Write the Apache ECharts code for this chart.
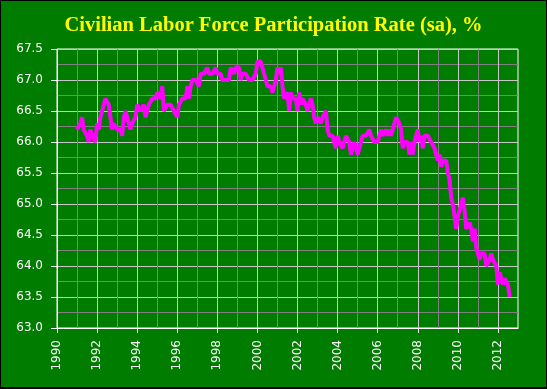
<!DOCTYPE html>
<html><head><meta charset="utf-8">
<script src="https://cdn.jsdelivr.net/npm/echarts@6/dist/echarts.min.js"></script>
<style>
html,body{margin:0;padding:0;background:#000;width:547px;height:389px;overflow:hidden;}
#c{position:absolute;left:1px;top:1px;width:545px;height:386px;}
</style></head><body><div id="c"></div>
<script>
const titleText = 'Civilian Labor Force Participation Rate (sa), %';
const startYear = 1991;
const rate1991 = [66.2,66.2,66.3,66.4,66.2,66.2,66.1,66.0,66.2,66.1,66.1,66.0];
const rate1992 = [66.3,66.2,66.4,66.5,66.6,66.7,66.7,66.6,66.4,66.2,66.3,66.3];
const rate1993 = [66.2,66.2,66.2,66.1,66.4,66.5,66.4,66.4,66.2,66.3,66.3,66.4];
const rate1994 = [66.6,66.6,66.5,66.5,66.6,66.4,66.4,66.6,66.6,66.7,66.7,66.7];
const rate1995 = [66.8,66.8,66.7,66.9,66.5,66.5,66.6,66.6,66.6,66.6,66.5,66.5];
const rate1996 = [66.4,66.6,66.6,66.7,66.7,66.7,66.9,66.7,66.9,67.0,67.0,67.0];
const rate1997 = [67.0,66.9,67.1,67.1,67.1,67.1,67.2,67.1,67.1,67.1,67.1,67.2];
const rate1998 = [67.1,67.1,67.1,67.0,67.0,67.0,67.0,67.0,67.2,67.2,67.1,67.2];
const rate1999 = [67.2,67.2,67.0,67.1,67.1,67.1,67.1,67.0,67.0,67.0,67.0,67.1];
const rate2000 = [67.3,67.3,67.3,67.3,67.1,67.1,66.9,66.9,66.9,66.8,66.9,67.0];
const rate2001 = [67.2,67.1,67.2,66.9,66.7,66.7,66.8,66.5,66.8,66.7,66.7,66.7];
const rate2002 = [66.5,66.8,66.6,66.7,66.7,66.6,66.5,66.6,66.7,66.6,66.4,66.3];
const rate2003 = [66.4,66.4,66.3,66.4,66.4,66.5,66.2,66.1,66.1,66.1,66.1,65.9];
const rate2004 = [66.1,66.0,66.0,65.9,66.0,66.1,66.1,66.0,65.8,65.9,66.0,65.9];
const rate2005 = [65.8,65.9,65.9,66.1,66.1,66.1,66.1,66.2,66.1,66.1,66.0,66.0];
const rate2006 = [66.0,66.1,66.2,66.1,66.1,66.2,66.1,66.2,66.1,66.2,66.3,66.4];
const rate2007 = [66.4,66.3,66.2,65.9,66.0,66.0,66.0,65.8,66.0,65.8,66.0,66.0];
const rate2008 = [66.2,66.0,66.1,65.9,66.1,66.1,66.1,66.1,66.0,66.0,65.9,65.8];
const rate2009 = [65.7,65.8,65.6,65.7,65.7,65.7,65.5,65.4,65.1,65.0,65.0,64.6];
const rate2010 = [64.8,64.9,64.9,65.1,64.9,64.6,64.6,64.7,64.6,64.4,64.6,64.3];
const rate2011 = [64.2,64.1,64.2,64.2,64.2,64.0,64.0,64.1,64.2,64.1,64.1,64.0];
const rate2012 = [63.7,63.9,63.8,63.7,63.8,63.8,63.7,63.5];
const xTickLabels = [1990,1992,1994,1996,1998,2000,2002,2004,2006,2008,2010,2012];
const yTickLabels = ['63.0','63.5','64.0','64.5','65.0','65.5','66.0','66.5','67.0','67.5'];

const years = [rate1991,rate1992,rate1993,rate1994,rate1995,rate1996,rate1997,rate1998,rate1999,rate2000,rate2001,rate2002,rate2003,rate2004,rate2005,rate2006,rate2007,rate2008,rate2009,rate2010,rate2011,rate2012];
const seriesData = [];
years.forEach((arr, i) => arr.forEach((v, m) => seriesData.push([startYear + i + m / 12, v])));

const chart = echarts.init(document.getElementById('c'));
chart.setOption({
  animation: false,
  backgroundColor: '#007c00',
  title: {
    text: titleText, left: 'center', top: 9,
    textStyle: {color: '#ffff00', fontFamily: 'Liberation Serif', fontWeight: 'bold', fontSize: 20.5}
  },
  grid: {left: 56, top: 48, right: 28, bottom: 59, show: true, borderColor: '#ffffff', borderWidth: 1, backgroundColor: 'transparent'},
  xAxis: {
    type: 'value', min: 1990, max: 2013, interval: 2,
    axisLine: {show: true, lineStyle: {color: '#ffffff', width: 1}},
    axisTick: {show: true, length: 5, lineStyle: {color: '#ffffff'}, customValues: xTickLabels},
    axisLabel: {rotate: 90, color: '#ffffff', fontFamily: 'DejaVu Sans', fontSize: 12, margin: 12,
      customValues: xTickLabels, formatter: v => String(v)},
    splitLine: {show: true, lineStyle: {color: '#c8c8c8', width: 1}},
    minorTick: {show: false, splitNumber: 2},
    minorSplitLine: {show: true, lineStyle: {color: '#808080', width: 1}}
  },
  yAxis: {
    type: 'value', min: 63, max: 67.5, interval: 0.5,
    axisLine: {show: true, lineStyle: {color: '#ffffff', width: 1}},
    axisTick: {show: true, length: 6, lineStyle: {color: '#ffffff'}},
    axisLabel: {color: '#ffffff', fontFamily: 'DejaVu Sans', fontSize: 12, margin: 14,
      formatter: v => yTickLabels.includes(v.toFixed(1)) ? v.toFixed(1) : ''},
    splitLine: {show: true, lineStyle: {color: '#c8c8c8', width: 1}},
    minorTick: {show: false, splitNumber: 2},
    minorSplitLine: {show: true, lineStyle: {color: '#808080', width: 1}}
  },
  series: [{
    type: 'line', data: seriesData, showSymbol: false, symbol: 'none',
    lineStyle: {color: '#ff00ff', width: 4}, z: 5
  }]
});
</script></body></html>
